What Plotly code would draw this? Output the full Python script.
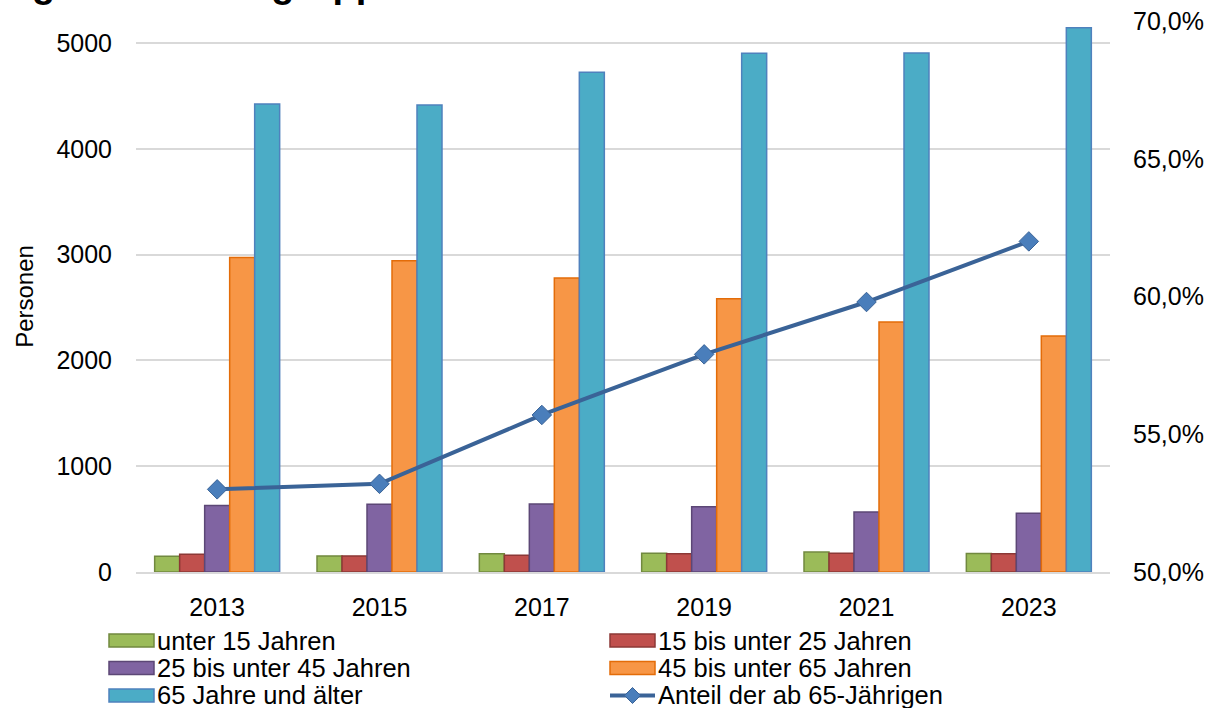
import plotly.graph_objects as go

years = ["2013", "2015", "2017", "2019", "2021", "2023"]
unter15 = [148, 152, 172, 177, 188, 175]
b15_25 = [168, 152, 158, 173, 177, 173]
b25_45 = [628, 640, 643, 617, 567, 555]
b45_65 = [2972, 2942, 2780, 2582, 2363, 2230]
ab65 = [4423, 4414, 4723, 4903, 4905, 5145]
anteil65 = [53.0, 53.2, 55.7, 57.9, 59.8, 62.0]

series_names = ["unter 15 Jahren", "15 bis unter 25 Jahren", "25 bis unter 45 Jahren",
                "45 bis unter 65 Jahren", "65 Jahre und älter"]
line_name = "Anteil der ab 65-Jährigen"
title_text = "Bevölkerung nach Altersgruppen"
y_title = "Personen"
left_ticks = [0, 1000, 2000, 3000, 4000, 5000]
right_ticks = [50, 55, 60, 65, 70]

fills = ["#9BBB59", "#C0504D", "#8064A2", "#F79646", "#4BACC6"]
borders = ["#71893F", "#8C3836", "#5C4776", "#E36C09", "#4F81BD"]
line_color = "#3A6397"
marker_fill = "#4A7EBB"

FONT = "Liberation Sans, Arial, sans-serif"

# plot area in pixels
W, H = 1209, 708
L, R, T, B = 136, 99, 21, 136
PW, PH = W - L - R, H - T - B


def px(x):
    return (x - L) / PW


def py(y):
    return (H - B - y) / PH


fig = go.Figure()
for name, vals, fc, bc in zip(series_names, [unter15, b15_25, b25_45, b45_65, ab65], fills, borders):
    fig.add_trace(go.Bar(x=years, y=vals, name=name, showlegend=False,
                         marker=dict(color=fc, line=dict(color=bc, width=1.5))))

fig.add_trace(go.Scatter(x=years, y=anteil65, name=line_name, yaxis="y2",
                         mode="lines+markers", showlegend=False,
                         line=dict(color=line_color, width=4),
                         marker=dict(symbol="diamond", size=15, color=marker_fill,
                                     line=dict(color=line_color, width=1))))

fig.update_layout(
    width=W, height=H,
    margin=dict(l=L, r=R, t=T, b=B, autoexpand=False),
    paper_bgcolor="white", plot_bgcolor="white",
    font=dict(family=FONT, size=25, color="#000000"),
    separators=",.",
    barmode="group", bargap=0.23, bargroupgap=0,
    showlegend=False,
    xaxis=dict(type="category", showgrid=False, showline=True, linecolor="#D9D9D9",
               linewidth=2, ticks="", tickfont=dict(size=25), ticklabelstandoff=12,
               automargin=False),
    yaxis=dict(range=[0, 5208], tickvals=left_ticks, tickformat="d",
               showgrid=True, gridcolor="#D9D9D9", gridwidth=2, zeroline=False,
               showline=False, ticks="", ticklabelstandoff=23, automargin=False,
               tickfont=dict(size=25),
               title=dict(text=y_title, font=dict(size=24), standoff=15)),
    yaxis2=dict(overlaying="y", side="right", range=[50, 70],
                tickvals=right_ticks,
                ticktext=[f"{v:.1f}%".replace(".", ",") for v in right_ticks],
                showgrid=False, zeroline=False, showline=False, ticks="",
                ticklabelstandoff=22, automargin=False, tickfont=dict(size=25)),
)

# cropped title at the very top
fig.add_annotation(text=title_text, xref="paper", yref="paper",
                   x=-0.321, y=1.0254, xanchor="left", yanchor="bottom",
                   showarrow=False,
                   font=dict(family=FONT, size=38, color="#000000", weight="bold"))

# custom legend (two columns, three rows)
legend_entries = [(n, "bar", fc, bc) for n, fc, bc in zip(series_names, fills, borders)]
legend_entries.append((line_name, "line", marker_fill, line_color))
col_x = [109, 610]
row_y = [640.5, 668, 695.5]
sw_w, sw_h = 45, 13
for i, (name, kind, fc, bc) in enumerate(legend_entries):
    x0 = col_x[i % 2]
    yc = row_y[i // 2]
    if kind == "bar":
        fig.add_shape(type="rect", xref="paper", yref="paper",
                      x0=px(x0), x1=px(x0 + sw_w), y0=py(yc + sw_h / 2), y1=py(yc - sw_h / 2),
                      fillcolor=fc, line=dict(color=bc, width=1.5))
    else:
        fig.add_shape(type="line", xref="paper", yref="paper",
                      x0=px(x0), x1=px(x0 + sw_w), y0=py(yc), y1=py(yc),
                      line=dict(color=bc, width=4))
        cx, d = x0 + sw_w / 2, 8
        path = (f"M {px(cx)},{py(yc - d)} L {px(cx + d)},{py(yc)} "
                f"L {px(cx)},{py(yc + d)} L {px(cx - d)},{py(yc)} Z")
        fig.add_shape(type="path", xref="paper", yref="paper", path=path,
                      fillcolor=fc, line=dict(color=bc, width=1))
    fig.add_annotation(text=name, xref="paper", yref="paper",
                       x=px(x0 + sw_w + 1), y=py(yc), xanchor="left", yanchor="middle",
                       showarrow=False, font=dict(family=FONT, size=25.5, color="#000000"))

fig.write_html("out.html", config={"displayModeBar": False},
               post_script="document.body.style.margin='0';document.body.style.padding='0';")
